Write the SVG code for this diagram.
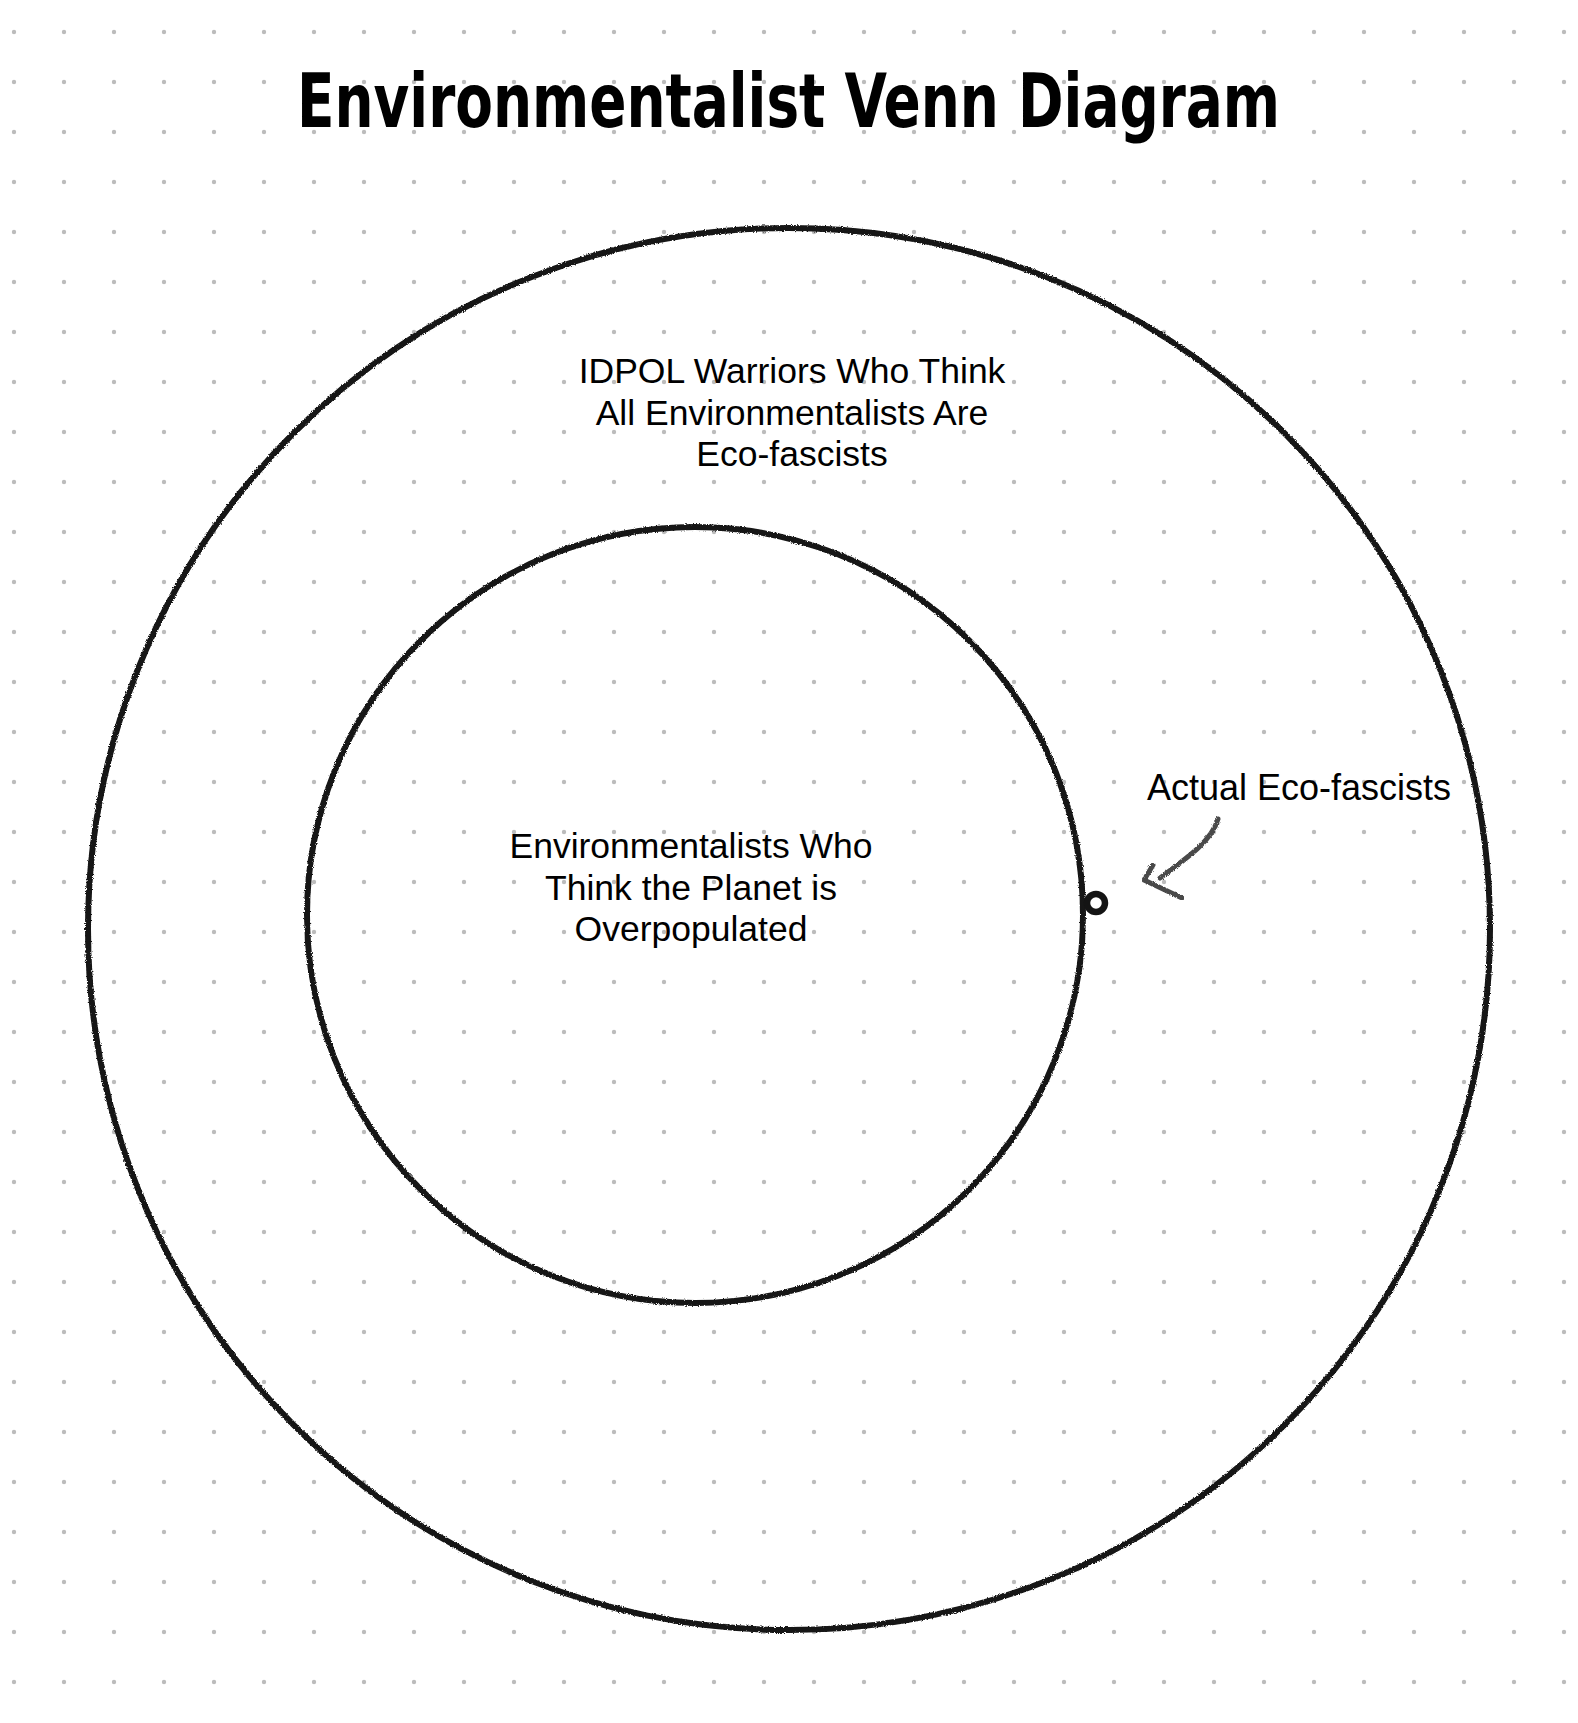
<svg xmlns="http://www.w3.org/2000/svg" width="1578" height="1723" viewBox="0 0 1578 1723">
  <defs>
    <pattern id="dots" x="0" y="0" width="50" height="50" patternUnits="userSpaceOnUse">
      <circle cx="14" cy="32" r="2.2" fill="#bcbcbc"/>
    </pattern>
    <filter id="pencil" x="-5%" y="-5%" width="110%" height="110%">
      <feTurbulence type="fractalNoise" baseFrequency="0.9" numOctaves="2" seed="3" result="n"/>
      <feDisplacementMap in="SourceGraphic" in2="n" scale="3" xChannelSelector="R" yChannelSelector="G"/>
    </filter>
  </defs>
  <style>
    .ring { fill: none; stroke: #141414; stroke-width: 6; }
    .label { font-family: "Liberation Sans", Arial, sans-serif; font-size: 35.5px; fill: #000; text-anchor: middle; }
    .title { font-family: "DejaVu Sans Condensed", "DejaVu Sans", sans-serif; font-weight: bold; font-size: 75px; fill: #000; }
    .arrow { fill: none; stroke: #4a4a4a; stroke-width: 5; stroke-linecap: round; stroke-linejoin: round; }
  </style>
  <rect width="1578" height="1723" fill="#ffffff"/>
  <rect width="1578" height="1723" fill="url(#dots)"/>

  <g id="title">
    <text class="title" x="297" y="127" textLength="983" lengthAdjust="spacingAndGlyphs">Environmentalist Venn Diagram</text>
  </g>

  <g id="outer-set">
    <circle class="ring" cx="789" cy="929" r="701" filter="url(#pencil)"/>
    <text class="label" x="792" y="383">IDPOL Warriors Who Think</text>
    <text class="label" x="792" y="424.5">All Environmentalists Are</text>
    <text class="label" x="792" y="466">Eco-fascists</text>
  </g>

  <g id="inner-set">
    <circle class="ring" cx="695" cy="915" r="388" filter="url(#pencil)"/>
    <text class="label" x="691" y="858">Environmentalists Who</text>
    <text class="label" x="691" y="900">Think the Planet is</text>
    <text class="label" x="691" y="941">Overpopulated</text>
  </g>

  <g id="actual-eco-fascists">
    <circle cx="1096" cy="903" r="9" fill="none" stroke="#141414" stroke-width="6.5"/>
    <text class="label" x="1147" y="800" style="text-anchor:start;font-size:36px">Actual Eco-fascists</text>
  </g>

  <g id="connectors">
    <path class="arrow" d="M1218,819 C1212,840 1190,856 1160,878" filter="url(#pencil)"/>
    <path class="arrow" d="M1153,865 L1144,880 L1182,898" filter="url(#pencil)"/>
  </g>
</svg>
